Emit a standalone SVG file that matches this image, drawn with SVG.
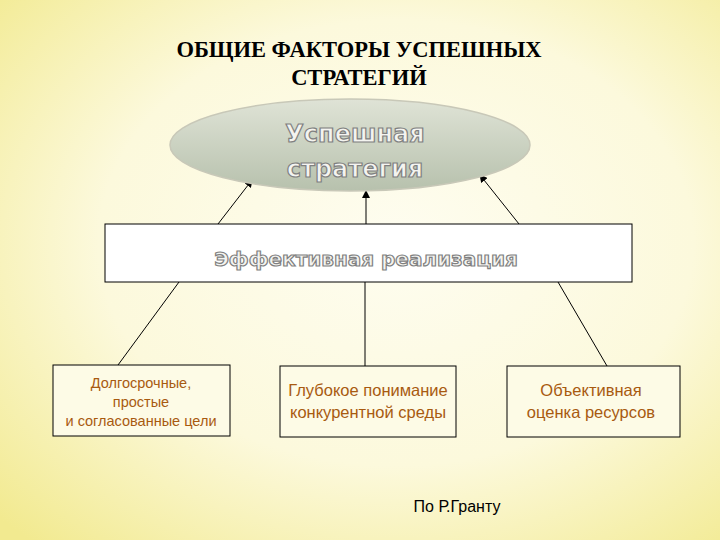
<svg xmlns="http://www.w3.org/2000/svg" width="720" height="540" viewBox="0 0 720 540">
<defs>
<radialGradient id="bg" cx="55%" cy="45%" r="75%">
<stop offset="0" stop-color="#fefdf0"/><stop offset="0.55" stop-color="#fcf9dc"/><stop offset="1" stop-color="#f2ea90"/>
</radialGradient>
<linearGradient id="el" x1="0" y1="0" x2="0" y2="1">
<stop offset="0" stop-color="#dfe3d6"/><stop offset="1" stop-color="#b7c1ad"/>
</linearGradient>
<marker id="ar" markerWidth="8" markerHeight="8" refX="7" refY="4" orient="auto" markerUnits="userSpaceOnUse">
<path d="M0,0 L8,4 L0,8 Z" fill="#000"/>
</marker>
<style>
.emb{font-family:"DejaVu Sans",sans-serif;font-weight:bold;fill:#f4f4f0;stroke:#808080;stroke-width:1.2;text-anchor:middle}
.box{fill:#fdfbe6;stroke:#000;stroke-width:1}
.lbl{font-family:"Liberation Sans",Arial,sans-serif;fill:#a85a10;text-anchor:middle}
.ln{stroke:#000;stroke-width:1;fill:none}
</style>
</defs>
<rect width="720" height="540" fill="url(#bg)"/>
<g id="title" font-family="Liberation Serif,serif" font-weight="bold" font-size="22.5" text-anchor="middle" fill="#000">
<text x="359" y="57">ОБЩИЕ ФАКТОРЫ УСПЕШНЫХ</text>
<text x="359" y="85">СТРАТЕГИЙ</text>
</g>
<g id="connectors">
<line class="ln" x1="218" y1="224" x2="252" y2="180" marker-end="url(#ar)"/>
<line class="ln" x1="366" y1="224" x2="366" y2="191" marker-end="url(#ar)"/>
<line class="ln" x1="519" y1="224" x2="480" y2="175" marker-end="url(#ar)"/>
<line class="ln" x1="179" y1="282" x2="118" y2="365"/>
<line class="ln" x1="365" y1="282" x2="365" y2="366"/>
<line class="ln" x1="558" y1="282" x2="607" y2="366"/>
</g>
<g id="strategy">
<ellipse cx="350" cy="145" rx="180" ry="46" fill="url(#el)" stroke="#c8c8b8" stroke-width="1.5"/>
<text class="emb" x="355" y="142" font-size="24">Успешная</text>
<text class="emb" x="355" y="177" font-size="24">стратегия</text>
</g>
<g id="realization">
<rect x="105" y="224" width="527" height="58" fill="#fff" stroke="#000"/>
<text class="emb" x="366" y="266" font-size="20">Эффективная реализация</text>
</g>
<g id="goals">
<rect class="box" x="53" y="365" width="177" height="71"/>
<text class="lbl" x="141" y="388" font-size="14.5">Долгосрочные,</text>
<text class="lbl" x="141" y="407" font-size="14.5">простые</text>
<text class="lbl" x="141" y="426" font-size="14.5">и согласованные цели</text>
</g>
<g id="competition">
<rect class="box" x="280" y="366" width="176" height="71"/>
<text class="lbl" x="368" y="396" font-size="16.5">Глубокое понимание</text>
<text class="lbl" x="368" y="418" font-size="16.5">конкурентной среды</text>
</g>
<g id="resources">
<rect class="box" x="507" y="366" width="173" height="71"/>
<text class="lbl" x="591" y="396" font-size="16.5">Объективная</text>
<text class="lbl" x="591" y="418" font-size="16.5">оценка ресурсов</text>
</g>
<text x="457" y="512" font-family="Liberation Sans,Arial,sans-serif" font-size="16" text-anchor="middle" fill="#000">По Р.Гранту</text>
</svg>
